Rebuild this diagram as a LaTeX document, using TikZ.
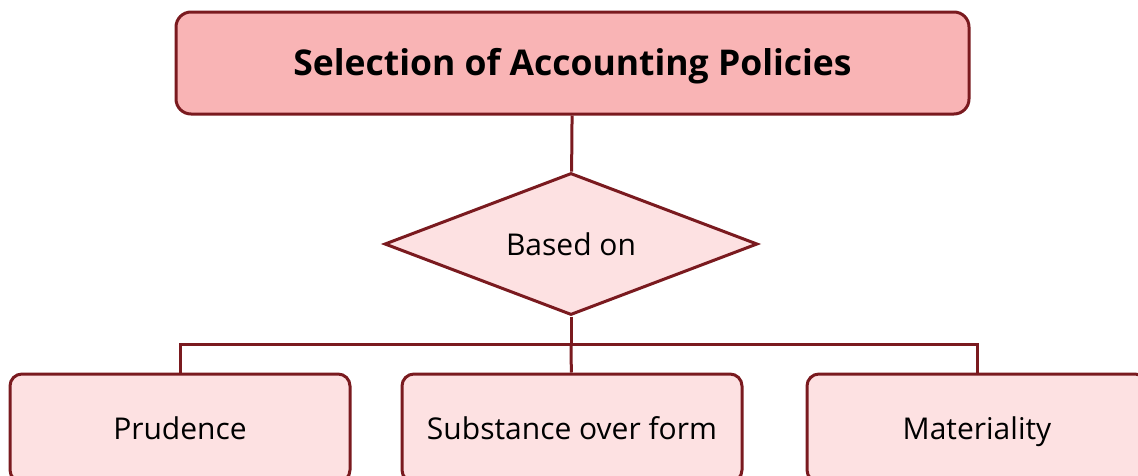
\documentclass[tikz,border=0pt]{standalone}
\usepackage{fontspec}
\setmainfont{Open Sans}
\usetikzlibrary{shapes.geometric}
\definecolor{edgered}{HTML}{7A1A1F}
\definecolor{titlepink}{HTML}{F9B4B5}
\definecolor{lightpink}{HTML}{FDE1E2}
\tikzset{
  headbox/.style={draw=edgered, line width=3pt, fill=titlepink, rounded corners=15pt,
    minimum width=793pt, minimum height=102pt, text height=25pt, text depth=0pt,
    font=\fontsize{35.5}{42}\selectfont\bfseries},
  choice/.style={draw=edgered, line width=3pt, fill=lightpink, diamond, aspect=2.63,
    minimum width=373pt, minimum height=142pt, inner sep=0pt, text height=22pt, text depth=0pt,
    font=\fontsize{30}{36}\selectfont},
  leafbox/.style={draw=edgered, line width=3pt, fill=lightpink, rounded corners=12pt,
    minimum width=340pt, minimum height=108pt, text height=22pt, text depth=0pt,
    font=\fontsize{30}{36}\selectfont},
  link/.style={draw=edgered, line width=3pt}
}
\begin{document}
\begin{tikzpicture}[x=1pt,y=-1pt]
\useasboundingbox (0,0) rectangle (1138,475);
\node[headbox] (title) at (572.5,63) {Selection of Accounting Policies};
\node[choice] (based) at (571,244) {Based on};
%%%%
\node[leafbox] (prud) at (180,428) {Prudence};
\node[leafbox] (subst) at (572,428) {Substance over form};
\node[leafbox] (mat) at (977,428) {Materiality};
\coordinate (split) at (571,344);
%%%%
\draw[link] (title) -- (based);
\draw[link] (based) -- (split);
\draw[link] (split) -| (prud);
\draw[link] (split) -| (mat);
\draw[link] (split) -- (subst);
\end{tikzpicture}
\end{document}
